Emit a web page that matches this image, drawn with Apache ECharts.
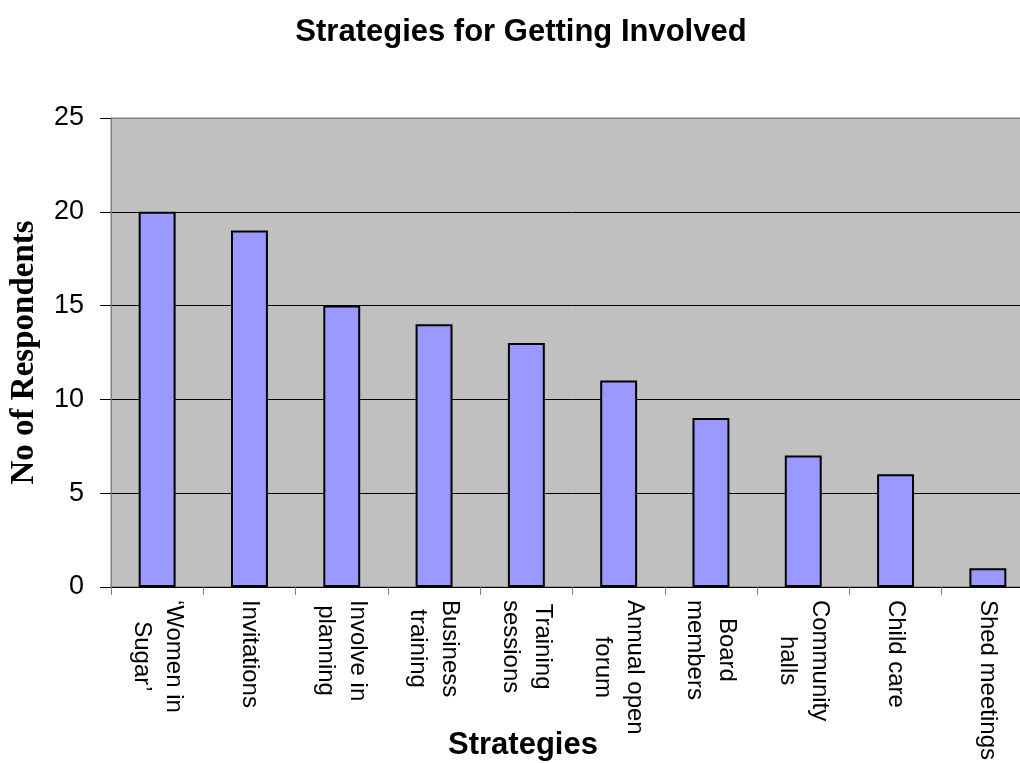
<!DOCTYPE html>
<html>
<head>
<meta charset="utf-8">
<script src="https://cdn.jsdelivr.net/npm/echarts@6/dist/echarts.min.js"></script>
<style>
html,body{margin:0;padding:0;background:#fff;overflow:hidden;width:1020px;height:763px;}
#chart{width:1040px;height:763px;}
</style>
</head>
<body>
<div id="chart"></div>
<script>
const titleText = 'Strategies for Getting Involved';
const xAxisName = 'Strategies';
const yAxisName = 'No of Respondents';
const categories = [
  '\u2018Women in\nSugar\u2019',
  'Invitations',
  'Involve in\nplanning',
  'Business\ntraining',
  'Training\nsessions',
  'Annual open\nforum',
  'Board\nmembers',
  'Community\nhalls',
  'Child care',
  'Shed meetings'
];
const respondents = [20, 19, 15, 14, 13, 11, 9, 7, 6, 1];
const yTicks = [0, 5, 10, 15, 20, 25];

const chart = echarts.init(document.getElementById('chart'), null, {renderer: 'canvas'});
const sans = 'Arial, "Liberation Sans", Helvetica, sans-serif';
const serif = '"Times New Roman", "Liberation Serif", serif';

chart.setOption({
  backgroundColor: '#ffffff',
  animation: false,
  title: [
    {
      text: titleText,
      left: 516, top: 12, textAlign: 'center',
      textStyle: {fontFamily: sans, fontWeight: 'bold', fontSize: 31, color: '#000'}
    },
    {
      text: xAxisName,
      left: 518, top: 725, textAlign: 'center',
      textStyle: {fontFamily: sans, fontWeight: 'bold', fontSize: 31, color: '#000'}
    }
  ],
  grid: {
    left: 110, right: 6, top: 118, bottom: 175,
    show: true, backgroundColor: '#c0c0c0', borderColor: '#808080', borderWidth: 1
  },
  xAxis: {
    type: 'category',
    data: categories,
    boundaryGap: true,
    axisLine: {show: true, lineStyle: {color: '#000', width: 1}},
    axisTick: {show: true, length: 8, lineStyle: {color: '#808080', width: 1}},
    axisLabel: {
      interval: 0,
      rotate: -90,
      margin: 13,
      color: '#000',
      fontFamily: sans,
      fontSize: 24,
      formatter: function (v) {
        return v.split('\n').map(function (s) { return '{c|' + s + '}'; }).join('\n');
      },
      rich: {
        c: {align: 'center', fontFamily: sans, fontSize: 24, lineHeight: 32, color: '#000'}
      }
    },
    splitLine: {show: false}
  },
  yAxis: {
    type: 'value',
    min: yTicks[0],
    max: yTicks[yTicks.length - 1],
    interval: 5,
    name: yAxisName,
    nameLocation: 'middle',
    nameRotate: 90,
    nameGap: 70,
    nameTextStyle: {fontFamily: serif, fontWeight: 'bold', fontSize: 33, color: '#000'},
    axisLine: {show: true, lineStyle: {color: '#808080', width: 1}},
    axisTick: {show: true, length: 11, lineStyle: {color: '#000', width: 1}},
    axisLabel: {margin: 27, color: '#000', fontFamily: sans, fontSize: 27},
    splitLine: {show: true, lineStyle: {color: ['#000', '#000', '#000', '#000', '#000', '#808080'], width: 1}}
  },
  series: [{
    type: 'bar',
    data: respondents,
    barWidth: '40%',
    itemStyle: {color: '#9999ff', borderColor: '#000', borderWidth: 2}
  }]
});
</script>
</body>
</html>
